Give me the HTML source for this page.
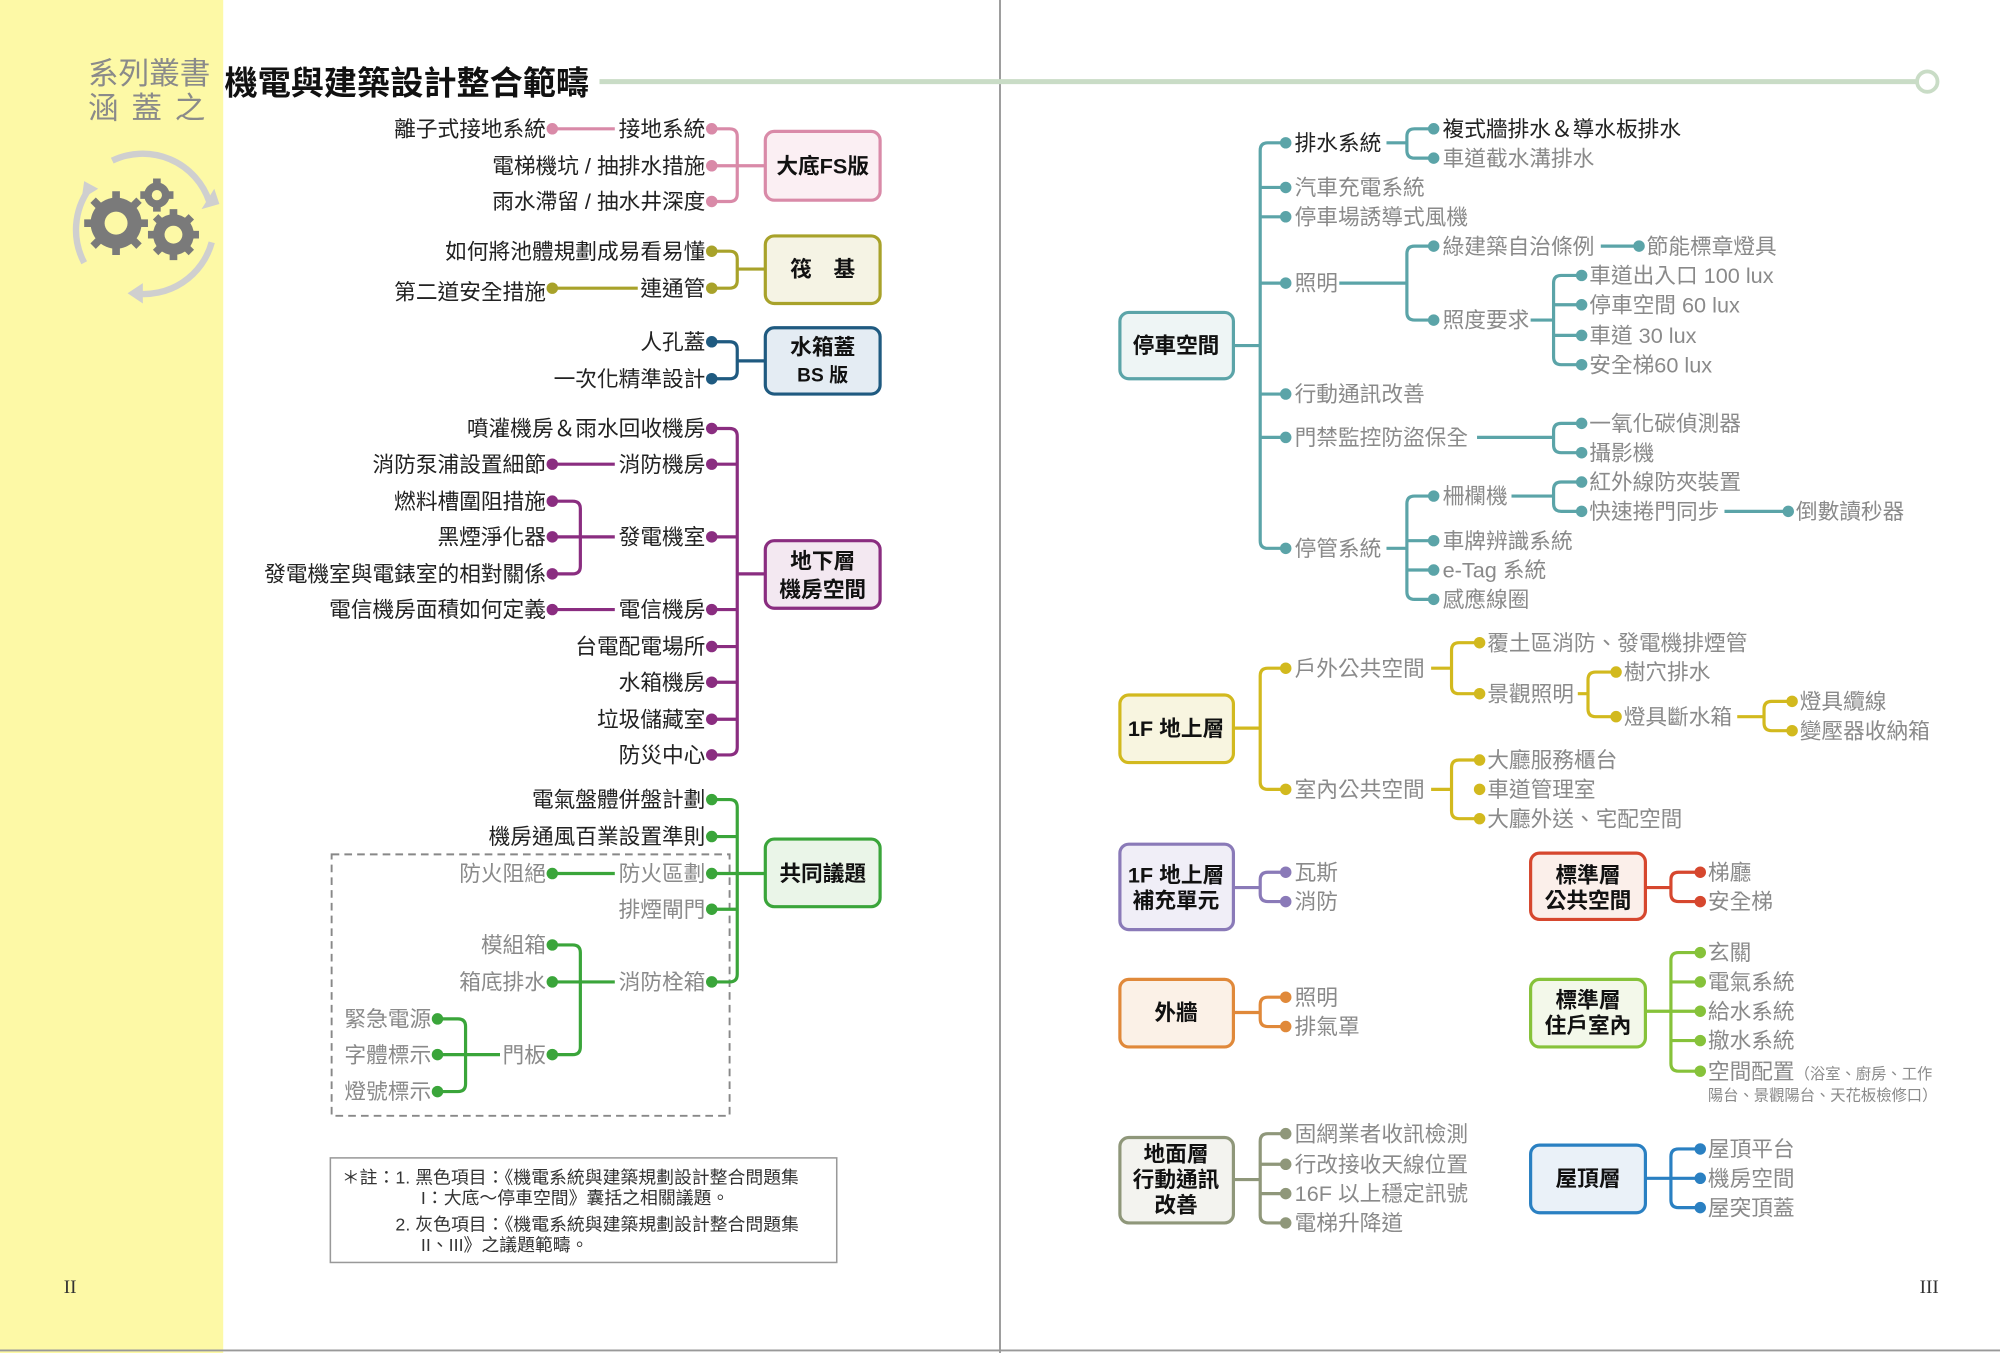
<!DOCTYPE html>
<html><head><meta charset="utf-8"><style>
html,body{margin:0;padding:0;background:#fff}
svg{display:block}
text{font-family:"Liberation Sans","Noto Sans CJK TC",sans-serif;font-size:17px}
.k{fill:#222}.g{fill:#8a8a8a}.e{text-anchor:end}.m{text-anchor:middle}
.b{font-weight:bold;font-size:17px;fill:#111}
</style></head><body>
<svg width="2000" height="1353" viewBox="0 0 1568 1061" preserveAspectRatio="none" xmlns="http://www.w3.org/2000/svg">
<rect width="1568" height="1061" fill="#fff"/>
<rect x="0" y="0" width="175" height="1061" fill="#fdf9a6"/>
<line x1="784" y1="0" x2="784" y2="1061" stroke="#999" stroke-width="1.5"/>
<line x1="0" y1="1059" x2="1568" y2="1059" stroke="#999" stroke-width="1.5"/>
<text x="69" y="66" style="font-size:24px;fill:#8a8a8a">系列叢書</text>
<text x="69" y="93" style="font-size:24px;fill:#8a8a8a;letter-spacing:10px">涵蓋之</text>
<text x="176" y="74" style="font-size:26px;font-weight:bold;fill:#111">機電與建築設計整合範疇</text>
<line x1="470" y1="64" x2="1503" y2="64" stroke="#c9dcc6" stroke-width="4"/>
<circle cx="1511" cy="64" r="8" fill="#fff" stroke="#c9dcc6" stroke-width="3"/>
<!-- gear icon -->
<g fill="none" stroke="#cfcfcf" stroke-width="5">
<path d="M88 126 A55 55 0 0 1 164 158"/><path d="M166 190 A55 55 0 0 1 105 230"/><path d="M66 206 A55 55 0 0 1 70 148"/>
</g>
<g fill="#cfcfcf"><path d="M158 164 L172 160 L168 148 Z"/><path d="M100 230 L112 222 L112 238 Z"/><path d="M66 142 L77 148 L64 156 Z"/></g>
<g fill="#7a7a7a">
<circle cx="91" cy="175" r="20"/><circle cx="136" cy="184" r="16"/><circle cx="123" cy="153" r="10"/>
</g>
<g stroke="#7a7a7a" stroke-width="6"><line x1="91" y1="150" x2="91" y2="200"/><line x1="66" y1="175" x2="116" y2="175"/><line x1="73" y1="157" x2="109" y2="193"/><line x1="109" y1="157" x2="73" y2="193"/>
<line x1="136" y1="164" x2="136" y2="204"/><line x1="116" y1="184" x2="156" y2="184"/><line x1="122" y1="170" x2="150" y2="198"/><line x1="150" y1="170" x2="122" y2="198"/>
<line x1="123" y1="140" x2="123" y2="166"/><line x1="110" y1="153" x2="136" y2="153"/></g>
<g fill="#fdf9a6"><circle cx="91" cy="175" r="9"/><circle cx="136" cy="184" r="7"/><circle cx="123" cy="153" r="4"/></g>
<text x="50" y="1014" style="font-family:'Liberation Serif',serif;font-size:15px;fill:#333">II</text>
<text x="1505" y="1014" style="font-family:'Liberation Serif',serif;font-size:15px;fill:#333">III</text>

<!-- LEFT: FS -->
<g fill="none" stroke-width="2.5" stroke="#d98aa8">
<path d="M558 101 H572 Q578 101 578 107 V152 Q578 158 572 158 H558"/><path d="M558 130 H600"/><path d="M433 101 H482"/>
<rect x="600" y="103" width="90" height="54" rx="7" fill="#fbeff3"/>
</g>
<g fill="#d98aa8"><circle cx="558" cy="101" r="4.5"/><circle cx="558" cy="130" r="4.5"/><circle cx="558" cy="158" r="4.5"/><circle cx="433" cy="101" r="4.5"/></g>
<text class="k e" x="553" y="107">接地系統</text><text class="k e" x="428" y="107">離子式接地系統</text>
<text class="k e" x="553" y="136">電梯機坑 / 抽排水措施</text><text class="k e" x="553" y="164">雨水滯留 / 抽水井深度</text>
<text class="b m" x="645" y="136">大底FS版</text>
<!-- 筏基 -->
<g fill="none" stroke-width="2.5" stroke="#a8a22a">
<path d="M558 197 H572 Q578 197 578 203 V220 Q578 226 572 226 H558"/><path d="M578 211 H600"/><path d="M433 226 H500"/>
<rect x="600" y="185" width="90" height="53" rx="7" fill="#f5f3e4"/>
</g>
<g fill="#a8a22a"><circle cx="558" cy="197" r="4.5"/><circle cx="558" cy="226" r="4.5"/><circle cx="433" cy="226" r="4.5"/></g>
<text class="k e" x="553" y="203">如何將池體規劃成易看易懂</text><text class="k e" x="553" y="232">連通管</text><text class="k e" x="428" y="235">第二道安全措施</text>
<text class="b m" x="645" y="217">筏　基</text>
<!-- 水箱蓋 -->
<g fill="none" stroke-width="2.5" stroke="#1f5a80">
<path d="M558 268 H572 Q578 268 578 274 V291 Q578 297 572 297 H558"/><path d="M578 283 H600"/>
<rect x="600" y="257" width="90" height="52" rx="7" fill="#e4ecf3"/>
</g>
<g fill="#1f5a80"><circle cx="558" cy="268" r="4.5"/><circle cx="558" cy="297" r="4.5"/></g>
<text class="k e" x="553" y="274">人孔蓋</text><text class="k e" x="553" y="303">一次化精準設計</text>
<text class="b m" x="645" y="278">水箱蓋</text><text class="b m" x="645" y="299" style="font-size:15px">BS 版</text>
<!-- 地下層 -->
<g fill="none" stroke-width="2.5" stroke="#8a2d80">
<path d="M558 336 H572 Q578 336 578 342 V586 Q578 592 572 592 H558"/>
<path d="M558 364 H578 M558 421 H578 M558 478 H578 M558 507 H578 M558 535 H578 M558 564 H578 M578 450 H600"/>
<path d="M433 364 H482 M433 478 H482 M455 421 H482"/>
<path d="M433 393 H449 Q455 393 455 399 V444 Q455 450 449 450 H433"/><path d="M433 421 H455"/>
<rect x="600" y="424" width="90" height="53" rx="7" fill="#f3e8f1"/>
</g>
<g fill="#8a2d80"><circle cx="558" cy="336" r="4.5"/><circle cx="558" cy="364" r="4.5"/><circle cx="558" cy="421" r="4.5"/><circle cx="558" cy="478" r="4.5"/><circle cx="558" cy="507" r="4.5"/><circle cx="558" cy="535" r="4.5"/><circle cx="558" cy="564" r="4.5"/><circle cx="558" cy="592" r="4.5"/>
<circle cx="433" cy="364" r="4.5"/><circle cx="433" cy="393" r="4.5"/><circle cx="433" cy="421" r="4.5"/><circle cx="433" cy="450" r="4.5"/><circle cx="433" cy="478" r="4.5"/></g>
<text class="k e" x="553" y="342">噴灌機房＆雨水回收機房</text><text class="k e" x="553" y="370">消防機房</text><text class="k e" x="428" y="370">消防泵浦設置細節</text>
<text class="k e" x="428" y="399">燃料槽圍阻措施</text><text class="k e" x="428" y="427">黑煙淨化器</text><text class="k e" x="553" y="427">發電機室</text>
<text class="k e" x="428" y="456">發電機室與電錶室的相對關係</text><text class="k e" x="428" y="484">電信機房面積如何定義</text><text class="k e" x="553" y="484">電信機房</text>
<text class="k e" x="553" y="513">台電配電場所</text><text class="k e" x="553" y="541">水箱機房</text><text class="k e" x="553" y="570">垃圾儲藏室</text><text class="k e" x="553" y="598">防災中心</text>
<text class="b m" x="645" y="446">地下層</text><text class="b m" x="645" y="468">機房空間</text>
<!-- 共同議題 -->
<rect x="260" y="670" width="312" height="205" fill="none" stroke="#888" stroke-width="1.5" stroke-dasharray="6 4"/>
<g fill="none" stroke-width="2.5" stroke="#3aa53a">
<path d="M558 627 H572 Q578 627 578 633 V764 Q578 770 572 770 H558"/>
<path d="M558 656 H578 M558 685 H600 M558 713 H578 M433 685 H482 M455 770 H482 M365 827 H392"/>
<path d="M433 741 H449 Q455 741 455 747 V821 Q455 827 449 827 H433"/><path d="M433 770 H455"/>
<path d="M343 799 H359 Q365 799 365 805 V850 Q365 856 359 856 H343"/><path d="M343 827 H365"/>
<rect x="600" y="658" width="90" height="53" rx="7" fill="#eaf5e8"/>
</g>
<g fill="#3aa53a"><circle cx="558" cy="627" r="4.5"/><circle cx="558" cy="656" r="4.5"/><circle cx="558" cy="685" r="4.5"/><circle cx="558" cy="713" r="4.5"/><circle cx="558" cy="770" r="4.5"/>
<circle cx="433" cy="685" r="4.5"/><circle cx="433" cy="741" r="4.5"/><circle cx="433" cy="770" r="4.5"/><circle cx="433" cy="827" r="4.5"/>
<circle cx="343" cy="799" r="4.5"/><circle cx="343" cy="827" r="4.5"/><circle cx="343" cy="856" r="4.5"/></g>
<text class="k e" x="553" y="633">電氣盤體併盤計劃</text><text class="k e" x="553" y="662">機房通風百業設置準則</text>
<text class="g e" x="553" y="691">防火區劃</text><text class="g e" x="428" y="691">防火阻絕</text><text class="g e" x="553" y="719">排煙閘門</text>
<text class="g e" x="428" y="747">模組箱</text><text class="g e" x="428" y="776">箱底排水</text><text class="g e" x="553" y="776">消防栓箱</text><text class="g e" x="428" y="833">門板</text>
<text class="g e" x="338" y="805">緊急電源</text><text class="g e" x="338" y="833">字體標示</text><text class="g e" x="338" y="862">燈號標示</text>
<text class="b m" x="645" y="691">共同議題</text>
<!-- note -->
<rect x="259" y="908" width="397" height="82" fill="#fff" stroke="#999" stroke-width="1.2"/>
<text x="268" y="928" style="font-size:14px;fill:#333">＊註：1. 黑色項目：《機電系統與建築規劃設計整合問題集</text>
<text x="330" y="944" style="font-size:14px;fill:#333">I：大底～停車空間》囊括之相關議題。</text>
<text x="310" y="965" style="font-size:14px;fill:#333">2. 灰色項目：《機電系統與建築規劃設計整合問題集</text>
<text x="330" y="981" style="font-size:14px;fill:#333">II、III》之議題範疇。</text>

<!-- RIGHT: 停車空間 -->
<g fill="none" stroke-width="2.5" stroke="#5ba4a8">
<path d="M1008 112 H994 Q988 112 988 118 V424 Q988 430 994 430 H1008"/>
<path d="M967 271 H988 M988 147 H1008 M988 170 H1008 M988 222 H1008 M988 309 H1008 M988 343 H1008"/>
<path d="M1087 112 H1103 M1050 222 H1103 M1087 430 H1103 M1255 193 H1285 M1200 251 H1218 M1158 343 H1218 M1185 389 H1218 M1352 401 H1402"/>
<path d="M1124 101 H1109 Q1103 101 1103 107 V118 Q1103 124 1109 124 H1124"/>
<path d="M1124 193 H1109 Q1103 193 1103 199 V245 Q1103 251 1109 251 H1124"/>
<path d="M1240 216 H1224 Q1218 216 1218 222 V280 Q1218 286 1224 286 H1240 M1218 239 H1240 M1218 263 H1240"/>
<path d="M1240 332 H1224 Q1218 332 1218 338 V349 Q1218 355 1224 355 H1240"/>
<path d="M1124 389 H1109 Q1103 389 1103 395 V464 Q1103 470 1109 470 H1124 M1103 424 H1124 M1103 447 H1124"/>
<path d="M1240 378 H1224 Q1218 378 1218 384 V395 Q1218 401 1224 401 H1240"/>
<rect x="878" y="245" width="89" height="52" rx="7" fill="#eef5f5"/>
</g>
<g fill="#5ba4a8"><circle cx="1008" cy="112" r="4.5"/><circle cx="1008" cy="147" r="4.5"/><circle cx="1008" cy="170" r="4.5"/><circle cx="1008" cy="222" r="4.5"/><circle cx="1008" cy="309" r="4.5"/><circle cx="1008" cy="343" r="4.5"/><circle cx="1008" cy="430" r="4.5"/>
<circle cx="1124" cy="101" r="4.5"/><circle cx="1124" cy="124" r="4.5"/><circle cx="1124" cy="193" r="4.5"/><circle cx="1124" cy="251" r="4.5"/><circle cx="1285" cy="193" r="4.5"/>
<circle cx="1240" cy="216" r="4.5"/><circle cx="1240" cy="239" r="4.5"/><circle cx="1240" cy="263" r="4.5"/><circle cx="1240" cy="286" r="4.5"/><circle cx="1240" cy="332" r="4.5"/><circle cx="1240" cy="355" r="4.5"/>
<circle cx="1124" cy="389" r="4.5"/><circle cx="1124" cy="424" r="4.5"/><circle cx="1124" cy="447" r="4.5"/><circle cx="1124" cy="470" r="4.5"/><circle cx="1240" cy="378" r="4.5"/><circle cx="1240" cy="401" r="4.5"/><circle cx="1402" cy="401" r="4.5"/></g>
<text class="b m" x="922" y="277">停車空間</text>
<text class="k" x="1015" y="118">排水系統</text><text class="k" x="1131" y="107">複式牆排水＆導水板排水</text><text class="g" x="1131" y="130">車道截水溝排水</text>
<text class="g" x="1015" y="153">汽車充電系統</text><text class="g" x="1015" y="176">停車場誘導式風機</text>
<text class="g" x="1015" y="228">照明</text><text class="g" x="1131" y="199">綠建築自治條例</text><text class="g" x="1291" y="199">節能標章燈具</text>
<text class="g" x="1131" y="257">照度要求</text><text class="g" x="1246" y="222">車道出入口 100 lux</text><text class="g" x="1246" y="245">停車空間 60 lux</text><text class="g" x="1246" y="269">車道 30 lux</text><text class="g" x="1246" y="292">安全梯60 lux</text>
<text class="g" x="1015" y="315">行動通訊改善</text><text class="g" x="1015" y="349">門禁監控防盜保全</text><text class="g" x="1246" y="338">一氧化碳偵測器</text><text class="g" x="1246" y="361">攝影機</text>
<text class="g" x="1015" y="436">停管系統</text><text class="g" x="1131" y="395">柵欄機</text><text class="g" x="1246" y="384">紅外線防夾裝置</text><text class="g" x="1246" y="407">快速捲門同步</text><text class="g" x="1408" y="407">倒數讀秒器</text>
<text class="g" x="1131" y="430">車牌辨識系統</text><text class="g" x="1131" y="453">e-Tag 系統</text><text class="g" x="1131" y="476">感應線圈</text>
<!-- 1F -->
<g fill="none" stroke-width="2.5" stroke="#d2b91e">
<path d="M1008 524 H994 Q988 524 988 530 V613 Q988 619 994 619 H1008 M967 571 H988"/>
<path d="M1122 524 H1138 M1122 619 H1138 M1237 544 H1245 M1362 562 H1383"/>
<path d="M1160 504 H1144 Q1138 504 1138 510 V538 Q1138 544 1144 544 H1160"/>
<path d="M1267 527 H1251 Q1245 527 1245 533 V556 Q1245 562 1251 562 H1267"/>
<path d="M1405 550 H1389 Q1383 550 1383 556 V567 Q1383 573 1389 573 H1405"/>
<path d="M1160 596 H1144 Q1138 596 1138 602 V636 Q1138 642 1144 642 H1160"/>
<rect x="878" y="545" width="89" height="53" rx="7" fill="#f8f5e0"/>
</g>
<g fill="#d2b91e"><circle cx="1008" cy="524" r="4.5"/><circle cx="1008" cy="619" r="4.5"/><circle cx="1160" cy="504" r="4.5"/><circle cx="1160" cy="544" r="4.5"/><circle cx="1267" cy="527" r="4.5"/><circle cx="1267" cy="562" r="4.5"/><circle cx="1405" cy="550" r="4.5"/><circle cx="1405" cy="573" r="4.5"/><circle cx="1160" cy="596" r="4.5"/><circle cx="1160" cy="619" r="4.5"/><circle cx="1160" cy="642" r="4.5"/></g>
<text class="b m" x="922" y="577">1F 地上層</text>
<text class="g" x="1015" y="530">戶外公共空間</text><text class="g" x="1166" y="510">覆土區消防、發電機排煙管</text><text class="g" x="1166" y="550">景觀照明</text>
<text class="g" x="1273" y="533">樹穴排水</text><text class="g" x="1273" y="568">燈具斷水箱</text><text class="g" x="1411" y="556">燈具纜線</text><text class="g" x="1411" y="579">變壓器收納箱</text>
<text class="g" x="1015" y="625">室內公共空間</text><text class="g" x="1166" y="602">大廳服務櫃台</text><text class="g" x="1166" y="625">車道管理室</text><text class="g" x="1166" y="648">大廳外送、宅配空間</text>
<!-- lavender -->
<g fill="none" stroke-width="2.5" stroke="#8a7ab8">
<path d="M1008 684 H994 Q988 684 988 690 V701 Q988 707 994 707 H1008 M967 696 H988"/>
<rect x="878" y="662" width="89" height="67" rx="7" fill="#f0eef7"/></g>
<g fill="#8a7ab8"><circle cx="1008" cy="684" r="4.5"/><circle cx="1008" cy="707" r="4.5"/></g>
<text class="b m" x="922" y="692">1F 地上層</text><text class="b m" x="922" y="712">補充單元</text>
<text class="g" x="1015" y="690">瓦斯</text><text class="g" x="1015" y="713">消防</text>
<!-- red -->
<g fill="none" stroke-width="2.5" stroke="#d6472e">
<path d="M1333 684 H1316 Q1310 684 1310 690 V701 Q1310 707 1316 707 H1333 M1290 696 H1310"/>
<rect x="1200" y="669" width="90" height="52" rx="7" fill="#fbefea"/></g>
<g fill="#d6472e"><circle cx="1333" cy="684" r="4.5"/><circle cx="1333" cy="707" r="4.5"/></g>
<text class="b m" x="1245" y="692">標準層</text><text class="b m" x="1245" y="712">公共空間</text>
<text class="g" x="1339" y="690">梯廳</text><text class="g" x="1339" y="713">安全梯</text>
<!-- orange -->
<g fill="none" stroke-width="2.5" stroke="#e0893a">
<path d="M1008 782 H994 Q988 782 988 788 V799 Q988 805 994 805 H1008 M967 794 H988"/>
<rect x="878" y="768" width="89" height="53" rx="7" fill="#fbf1e7"/></g>
<g fill="#e0893a"><circle cx="1008" cy="782" r="4.5"/><circle cx="1008" cy="805" r="4.5"/></g>
<text class="b m" x="922" y="800">外牆</text>
<text class="g" x="1015" y="788">照明</text><text class="g" x="1015" y="811">排氣罩</text>
<!-- lime -->
<g fill="none" stroke-width="2.5" stroke="#86c23a">
<path d="M1333 747 H1316 Q1310 747 1310 753 V834 Q1310 840 1316 840 H1333 M1290 793 H1333 M1310 770 H1333 M1310 816 H1333"/>
<rect x="1200" y="768" width="90" height="53" rx="7" fill="#f3f8ea"/></g>
<g fill="#86c23a"><circle cx="1333" cy="747" r="4.5"/><circle cx="1333" cy="770" r="4.5"/><circle cx="1333" cy="793" r="4.5"/><circle cx="1333" cy="816" r="4.5"/><circle cx="1333" cy="840" r="4.5"/></g>
<text class="b m" x="1245" y="790">標準層</text><text class="b m" x="1245" y="810">住戶室內</text>
<text class="g" x="1339" y="753">玄關</text><text class="g" x="1339" y="776">電氣系統</text><text class="g" x="1339" y="799">給水系統</text><text class="g" x="1339" y="822">撤水系統</text>
<text class="g" x="1339" y="846">空間配置<tspan style="font-size:12px">（浴室、廚房、工作</tspan></text>
<text class="g" x="1339" y="863" style="font-size:12px">陽台、景觀陽台、天花板檢修口）</text>
<!-- gray olive -->
<g fill="none" stroke-width="2.5" stroke="#8f977a">
<path d="M1008 889 H994 Q988 889 988 895 V953 Q988 959 994 959 H1008 M967 925 H988 M988 913 H1008 M988 936 H1008"/>
<rect x="878" y="892" width="89" height="67" rx="7" fill="#f3f3ef"/></g>
<g fill="#8f977a"><circle cx="1008" cy="889" r="4.5"/><circle cx="1008" cy="913" r="4.5"/><circle cx="1008" cy="936" r="4.5"/><circle cx="1008" cy="959" r="4.5"/></g>
<text class="b m" x="922" y="911">地面層</text><text class="b m" x="922" y="931">行動通訊</text><text class="b m" x="922" y="951">改善</text>
<text class="g" x="1015" y="895">固網業者收訊檢測</text><text class="g" x="1015" y="919">行改接收天線位置</text><text class="g" x="1015" y="942">16F 以上穩定訊號</text><text class="g" x="1015" y="965">電梯升降道</text>
<!-- blue -->
<g fill="none" stroke-width="2.5" stroke="#2a80c2">
<path d="M1333 901 H1316 Q1310 901 1310 907 V941 Q1310 947 1316 947 H1333 M1290 924 H1333"/>
<rect x="1200" y="898" width="90" height="53" rx="7" fill="#eaf1f8"/></g>
<g fill="#2a80c2"><circle cx="1333" cy="901" r="4.5"/><circle cx="1333" cy="924" r="4.5"/><circle cx="1333" cy="947" r="4.5"/></g>
<text class="b m" x="1245" y="930">屋頂層</text>
<text class="g" x="1339" y="907">屋頂平台</text><text class="g" x="1339" y="930">機房空間</text><text class="g" x="1339" y="953">屋突頂蓋</text>
</svg>
</body></html>
